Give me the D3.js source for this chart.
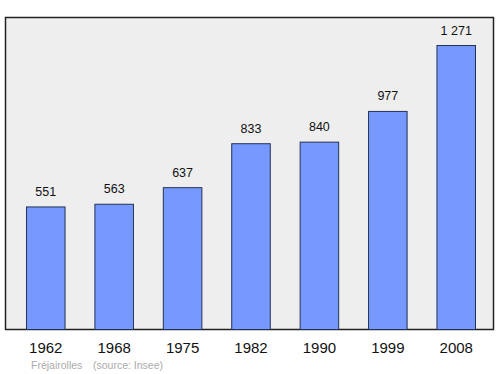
<!DOCTYPE html>
<html><head><meta charset="utf-8">
<script src="https://cdn.jsdelivr.net/npm/d3@7"></script>
<style>body{margin:0;background:#fff}svg{display:block}</style>
</head><body>
<script>
const years = ["1962","1968","1975","1982","1990","1999","2008"];
const population = [551,563,637,833,840,977,1271];
const valueLabels = ["551","563","637","833","840","977","1 271"];
const title = "Fréjairolles";
const source = "(source: Insee)";

const W = 500, H = 374;
const svg = d3.select("body").append("svg").attr("width", W).attr("height", H);

const plot = {x0: 5.5, x1: 493.5, y0: 17.5, y1: 329.5};
svg.append("rect").attr("x", plot.x0).attr("y", plot.y0)
  .attr("width", plot.x1 - plot.x0).attr("height", plot.y1 - plot.y0)
  .attr("fill", "#eeeeee").attr("stroke", "#222").attr("stroke-width", 1.5);

const x = d3.scaleBand().domain(years).range([26, 476]).paddingInner(0.422).paddingOuter(0);
const y = d3.scaleLinear().domain([0, 1271]).range([330, 45]);

svg.selectAll("rect.bar").data(population).enter().append("rect")
  .attr("class", "bar")
  .attr("x", (d, i) => x(years[i]) + 0.5)
  .attr("y", d => y(d) + 0.5)
  .attr("width", x.bandwidth() - 1)
  .attr("height", d => y(0) - y(d) - 1)
  .attr("fill", "#7799ff").attr("stroke", "#223355").attr("stroke-width", 1);

svg.selectAll("text.val").data(population).enter().append("text")
  .attr("class", "val")
  .attr("x", (d, i) => x(years[i]) + x.bandwidth() / 2)
  .attr("y", d => y(d) - 10.5)
  .attr("text-anchor", "middle")
  .attr("font-family", "Liberation Sans, Arial, sans-serif")
  .attr("font-size", 12.5).attr("fill", "#111")
  .text((d, i) => valueLabels[i]);

const xAxis = d3.axisBottom(x).tickSize(0).tickPadding(0);
const gx = svg.append("g").attr("transform", "translate(0,353)").call(xAxis);
gx.select(".domain").remove();
gx.selectAll("text").attr("dy", 0).attr("y", 0)
  .attr("font-family", "Liberation Sans, Arial, sans-serif")
  .attr("font-size", 15).attr("fill", "#111");

svg.append("text").attr("x", 31).attr("y", 369)
  .attr("font-family", "Liberation Sans, Arial, sans-serif")
  .attr("font-size", 10.5).attr("fill", "#aaa").text(title);
svg.append("text").attr("x", 93).attr("y", 369)
  .attr("font-family", "Liberation Sans, Arial, sans-serif")
  .attr("font-size", 10.5).attr("fill", "#aaa").text(source);
</script>
</body></html>
